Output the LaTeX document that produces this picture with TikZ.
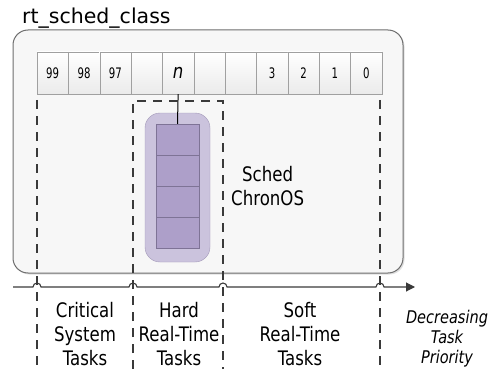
\documentclass[tikz,border=0pt]{standalone}
\usepackage{fontspec}
\setmainfont{DejaVu Sans}
\newfontfamily\lbl[FakeStretch=0.83]{DejaVu Sans}
\newfontfamily\numfont[FakeStretch=0.7]{DejaVu Sans}
\usetikzlibrary{arrows.meta,shadows}
\definecolor{boxfill}{HTML}{F7F7F7}
\definecolor{boxline}{HTML}{6E6E6E}
\definecolor{cellline}{HTML}{A0A0A0}
\definecolor{qouter}{HTML}{CBC3DD}
\definecolor{qouterline}{HTML}{A298B8}
\definecolor{qinner}{HTML}{AD9FC9}
\definecolor{qinnerline}{HTML}{7E7396}
\definecolor{dashcol}{HTML}{3A3A3A}
\begin{document}
\begin{tikzpicture}[x=1pt,y=-1pt,
  cellbox/.style={draw=cellline, top color=white, bottom color=black!8, minimum width=31.36pt, minimum height=42pt, inner sep=0pt, font=\numfont\fontsize{14.5}{15}\selectfont},
  qcell/.style={draw=qinnerline, fill=qinner, minimum width=43pt, minimum height=31pt, inner sep=0pt},
  divider/.style={draw=dashcol, line width=1.1pt, dash pattern=on 9pt off 7pt},
  lbltext/.style={align=center, inner sep=0pt, anchor=north, font=\lbl\fontsize{20}{24}\selectfont},
]
\useasboundingbox (0,0) rectangle (493,369);
% title
\node[anchor=base west, inner sep=0pt, font=\fontsize{20.5}{21}\selectfont] (title) at (22,24) {rt\_sched\_class};
% outer box
\node[draw=boxline, fill=boxfill, line width=1pt, rounded corners=15pt, minimum width=390pt, minimum height=243pt, inner sep=0pt,
  drop shadow={shadow xshift=1.5pt, shadow yshift=-1.5pt, opacity=0.25}] (outer) at (208,151.5) {};
% priority array
\foreach \t [count=\i from 0] in {99,98,97,{},{\lbl\fontsize{20}{20}\selectfont\itshape n},{},{},3,2,1,0}{
  \node[cellbox] (c\i) at ({37+31.36*(\i+0.5)},73) {\t};
}
% ChronOS queue
\node[draw=qouterline, fill=qouter, rounded corners=15pt, minimum width=65pt, minimum height=149pt, inner sep=0pt] (queue) at (177.5,187.5) {};
\foreach \j in {1,...,4}{
  \node[qcell] (q\j) at (177.5,{124+31*(\j-0.5)}) {};
}
\draw[line width=1pt] (c4.south) -- (q1.north);
\node[lbltext, anchor=north west] (sched) at (231,166) {Sched\\ChronOS};
% dividers
\coordinate (d1t) at (37,100);
\coordinate (d1b) at (37,369);
\coordinate (d2t) at (133,101);
\coordinate (d2b) at (133,369);
\coordinate (d3t) at (223,101);
\coordinate (d3b) at (223,369);
\coordinate (d4t) at (380,100);
\coordinate (d4b) at (380,369);
\draw[divider] (d1t) -- (d1b);
\draw[divider] (d2b) -- (d2t) -- (d3t) -- (d3b);
\draw[divider] (d4t) -- (d4b);
% axis with hops
\coordinate (ax0) at (13,287);
\coordinate (ax1) at (415,287);
\draw[draw=dashcol, line width=1.1pt, -{Triangle[length=9pt,width=9pt]}]
  (ax0) -- (33,287) arc[start angle=180, end angle=360, radius=4]
  -- (129,287) arc[start angle=180, end angle=360, radius=4]
  -- (219,287) arc[start angle=180, end angle=360, radius=4]
  -- (376,287) arc[start angle=180, end angle=360, radius=4]
  -- (ax1);
% labels
\node[lbltext] (crit) at (85,302) {Critical\\System\\Tasks};
\node[lbltext] (hard) at (179,302) {Hard\\Real-Time\\Tasks};
\node[lbltext] (soft) at (300,302) {Soft\\Real-Time\\Tasks};
\node[lbltext, font=\lbl\itshape\fontsize{17.5}{20}\selectfont] (prio) at (447,309.7) {Decreasing\\Task\\Priority};
\end{tikzpicture}
\end{document}
